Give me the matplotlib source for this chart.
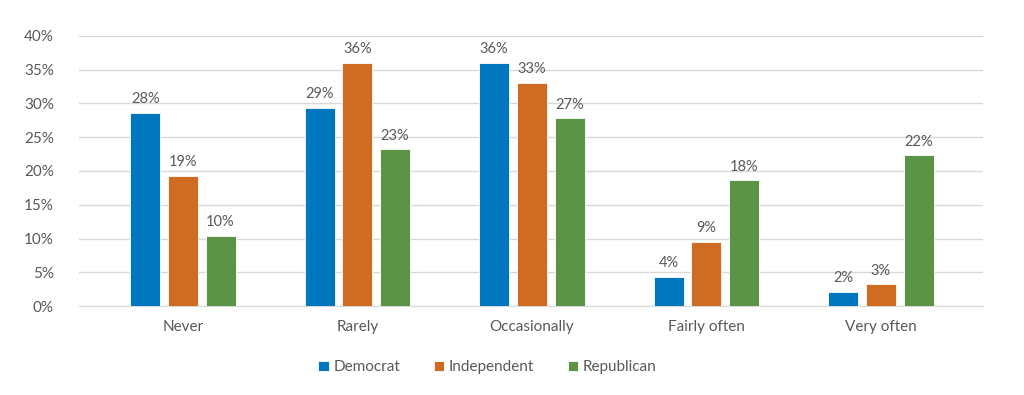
import numpy as np
import matplotlib.pyplot as plt
from matplotlib.ticker import FuncFormatter

categories = ['Never', 'Rarely', 'Occasionally', 'Fairly often', 'Very often']
democrat = [28.6, 29.4, 36.0, 4.3, 2.1]
independent = [19.3, 36.0, 33.0, 9.5, 3.2]
republican = [10.4, 23.2, 27.8, 18.6, 22.3]

series = [('Democrat', democrat, '#0076BE'),
          ('Independent', independent, '#D06C22'),
          ('Republican', republican, '#5B9446')]

plt.rcParams['font.family'] = ['Lato', 'DejaVu Sans']
text_col = '#595959'

fig = plt.figure(figsize=(10.24, 3.95), dpi=100)
ax = fig.add_axes([0.077, 0.2253, 0.883, 0.6836])

x = np.arange(len(categories))
width = 0.172
step = 0.216
for i, (name, vals, col) in enumerate(series):
    pos = x + (i - 1) * step
    bars = ax.bar(pos, vals, width, color=col, label=name,
                  edgecolor='white', linewidth=0.6, zorder=3)
    for b, v in zip(bars, vals):
        ax.text(b.get_x() + b.get_width() / 2, v + 1.0, f'{int(v)}%',
                ha='center', va='bottom', fontsize=10.5, color=text_col)

ax.set_xlim(-0.596, len(categories) - 0.415)
ax.set_ylim(0, 40)
ax.set_yticks(np.arange(0, 41, 5))
ax.yaxis.set_major_formatter(FuncFormatter(lambda v, p: f'{int(v)}%'))
ax.set_xticks(x)
ax.set_xticklabels(categories)
ax.tick_params(axis='both', length=0, labelsize=11, colors=text_col)
ax.tick_params(axis='x', pad=10)
ax.tick_params(axis='y', pad=18)
ax.grid(axis='y', color='#D9D9D9', linewidth=1, zorder=0)
for s in ['top', 'right', 'left']:
    ax.spines[s].set_visible(False)
ax.spines['bottom'].set_color('#D9D9D9')

leg = fig.legend(loc='center', bbox_to_anchor=(0.476, 0.07), ncol=3,
                 frameon=False, fontsize=11, handlelength=0.7,
                 handleheight=0.7, handletextpad=0.3, columnspacing=2.2)
for t in leg.get_texts():
    t.set_color(text_col)

fig.savefig('out.png', dpi=100)
